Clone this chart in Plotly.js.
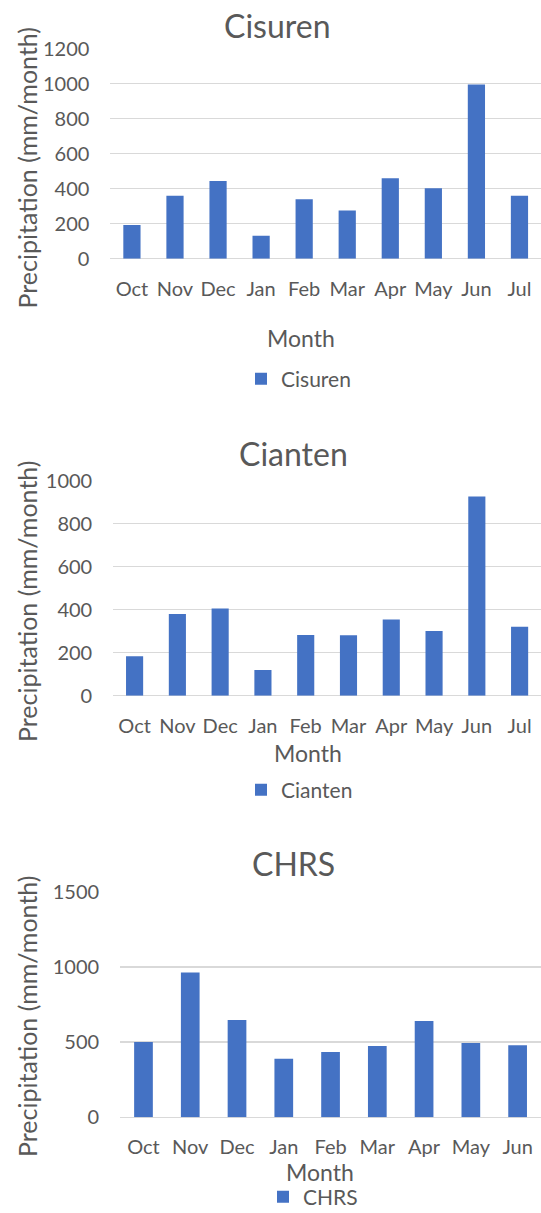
<!DOCTYPE html>
<html>
<head>
<meta charset="utf-8">
<script src="https://cdn.plot.ly/plotly-3.0.1.min.js"></script>
<style>html,body{margin:0;padding:0;background:#fff;}#chart{width:541px;height:1213px;}</style>
</head>
<body>
<div id="chart"></div>
<script>
// ---- data ----
const monthsA = ['Oct','Nov','Dec','Jan','Feb','Mar','Apr','May','Jun','Jul'];
const monthsB = ['Oct','Nov','Dec','Jan','Feb','Mar','Apr','May','Jun','Jul'];
const monthsC = ['Oct','Nov','Dec','Jan','Feb','Mar','Apr','May','Jun'];
const cisuren = [192, 360, 444, 131, 339, 276, 459, 402, 996, 360];
const cianten = [184, 380, 406, 119, 282, 281, 355, 301, 926, 321];
const chrs    = [501, 962, 647, 390, 434, 474, 640, 494, 479];
const seriesNames = ['Cisuren', 'Cianten', 'CHRS'];
const yTitle = 'Precipitation (mm/month)';
const xTitle = 'Month';

// ---- layout constants ----
const W = 541, H = 1213;
const FONT = 'Lato, "Open Sans", sans-serif';
const TXT = '#595959';
const BAR = '#4472C4';
const GRID = '#D9D9D9';
const px = x => x / W;
const py = y => (H - y) / H;

const panels = [
  {x: monthsA, y: cisuren, name: seriesNames[0], left: 110.4, top: 48.7, bottom: 258.7, range: [0,1200], dtick: 200,
   titleX: 277, titleY: 25, monthX: 301, monthY: 338, yTitleY: 167.5, legX: 241, legY: 379},
  {x: monthsB, y: cianten, name: seriesNames[1], left: 113.2, top: 480.7, bottom: 695.7, range: [0,1000], dtick: 200,
   titleX: 293, titleY: 453, monthX: 308, monthY: 753, yTitleY: 601, legX: 241, legY: 790},
  {x: monthsC, y: chrs, name: seriesNames[2], left: 120.1, top: 891.7, bottom: 1117.3, range: [0,1500], dtick: 500,
   titleX: 293, titleY: 863, monthX: 320, monthY: 1172, yTitleY: 1016, legX: 263, legY: 1197}
];

const data = [];
const layout = {
  width: W, height: H,
  margin: {l: 0, r: 0, t: 0, b: 0, pad: 0, autoexpand: false},
  paper_bgcolor: '#fff', plot_bgcolor: '#fff',
  font: {family: FONT, color: TXT},
  bargap: 0.6,
  annotations: []
};

panels.forEach((p, i) => {
  const n = i === 0 ? '' : String(i + 1);
  const legKey = 'legend' + n;
  data.push({
    type: 'bar', x: p.x, y: p.y, name: p.name,
    xaxis: 'x' + n, yaxis: 'y' + n, legend: legKey,
    marker: {color: BAR},
    showlegend: true
  });
  layout['xaxis' + n] = {
    domain: [px(p.left), 1], anchor: 'y' + n,
    type: 'category', showgrid: false, zeroline: false,
    showline: false, ticks: '',
    tickfont: {family: FONT, size: 20, color: TXT},
    ticklabelstandoff: 16, fixedrange: true, automargin: false
  };
  layout['yaxis' + n] = {
    domain: [py(p.bottom), py(p.top)], anchor: 'x' + n,
    range: p.range, dtick: p.dtick, tick0: 0,
    showgrid: true, gridcolor: GRID, gridwidth: 1.2,
    zeroline: true, zerolinecolor: GRID, zerolinewidth: 1.2,
    showline: false, ticks: '',
    tickfont: {family: FONT, size: 20, color: TXT},
    ticklabelstandoff: 20, fixedrange: true, automargin: false
  };
  layout[legKey] = {
    orientation: 'h', x: px(p.legX), xanchor: 'left',
    y: py(p.legY), yanchor: 'middle',
    font: {family: FONT, size: 21, color: TXT},
    bgcolor: 'rgba(0,0,0,0)', borderwidth: 0
  };
  layout.annotations.push(
    {text: p.name, xref: 'paper', yref: 'paper', x: px(p.titleX), y: py(p.titleY),
     xanchor: 'center', yanchor: 'middle', showarrow: false,
     font: {family: FONT, size: 32, color: TXT}},
    {text: xTitle, xref: 'paper', yref: 'paper', x: px(p.monthX), y: py(p.monthY),
     xanchor: 'center', yanchor: 'middle', showarrow: false,
     font: {family: FONT, size: 23, color: TXT}},
    {text: yTitle, xref: 'paper', yref: 'paper', x: px(27), y: py(p.yTitleY),
     xanchor: 'center', yanchor: 'middle', showarrow: false, textangle: -90,
     font: {family: FONT, size: 25, color: TXT}}
  );
});

Plotly.newPlot('chart', data, layout, {displayModeBar: false, staticPlot: true});
</script>
</body>
</html>
